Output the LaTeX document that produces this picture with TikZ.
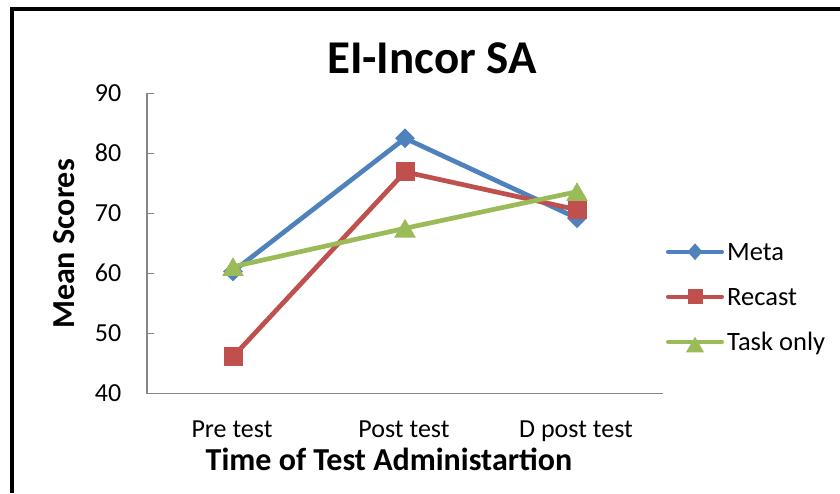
\documentclass[tikz,border=0pt]{standalone}
\usepackage{fontspec}
\setmainfont{Carlito}
\usetikzlibrary{shapes.geometric}
\definecolor{metablue}{HTML}{4F81BD}
\definecolor{recastred}{HTML}{C0504D}
\definecolor{taskgreen}{HTML}{9BBB59}
\definecolor{axisgray}{HTML}{868686}
\tikzset{
  frameline/.style={line width=3.8pt, black},
  axisline/.style={line width=1.2pt, axisgray},
  series/.style={line width=4.7pt, line join=round, line cap=round},
  dmark/.style={diamond, fill=metablue, draw=none, inner sep=0pt, minimum width=20pt, minimum height=20pt},
  smark/.style={rectangle, fill=recastred, draw=none, inner sep=0pt, minimum size=19pt},
  tmark/.style={regular polygon, regular polygon sides=3, fill=taskgreen, draw=none, inner sep=0pt, minimum size=25pt, yshift=-3pt},
  ldmark/.style={dmark, minimum width=15pt, minimum height=17pt},
  lsmark/.style={smark, minimum size=15pt},
  ltmark/.style={tmark, minimum size=21pt, yshift=-2.5pt},
  ticklabel/.style={font=\fontsize{26}{30}\selectfont, inner sep=0pt},
  axistitle/.style={font=\fontsize{32}{36}\selectfont\bfseries, inner sep=0pt},
  legendtext/.style={font=\fontsize{26.5}{30}\selectfont, inner sep=0pt, anchor=base west}
}
\begin{document}
\begin{tikzpicture}[x=1pt, y=-1pt]
\useasboundingbox (0,0) rectangle (840,493);
\fill[white] (0,0) rectangle (840,493);
% frame
\coordinate (fbl) at (12,493);
\coordinate (ftl) at (12,8.7);
\coordinate (ftr) at (840,8.7);
\draw[frameline] (fbl) -- (ftl) -- (ftr);
% title
\node[font=\fontsize{47}{52}\selectfont\bfseries, inner sep=0pt, anchor=base] (title) at (432,73.5) {EI-Incor SA};
% axes
\coordinate (ytop) at (147,93.3);
\coordinate (origin) at (147,393.3);
\coordinate (xend) at (663,393.3);
\foreach \v/\yy in {90/93.3,80/153.3,70/213.3,60/273.3,50/333.3} {
  \coordinate (t\v) at (147,\yy);
  \coordinate (te\v) at (154,\yy);
  \draw[axisline] (t\v) -- (te\v);
}
\draw[axisline] (ytop) -- (origin) -- (xend);
\foreach \v/\yy in {90/93.3,80/153.3,70/213.3,60/273.3,50/333.3,40/393.3} {
  \node[ticklabel, anchor=base east] (yl\v) at (121.5,\yy+8.2) {\v};
}
\node[ticklabel, anchor=base] (xl1) at (232,437) {Pre test};
\node[ticklabel, anchor=base] (xl2) at (404,437) {Post test};
\node[ticklabel, anchor=base] (xl3) at (576,437) {D post test};
\node[axistitle, anchor=base] (xtitle) at (389,470) {Time of Test Administartion};
\node[axistitle, anchor=base, rotate=90] (ytitle) at (74,244) {Mean Scores};
% data points
\coordinate (m1) at (233,271.5);
\coordinate (m2) at (405,138.3);
\coordinate (m3) at (577,218.1);
\coordinate (r1) at (233,356.7);
\coordinate (r2) at (405,171.9);
\coordinate (r3) at (577,209.7);
\coordinate (g1) at (233,266.7);
\coordinate (g2) at (405,228.3);
\coordinate (g3) at (577,191.7);
% Meta
\draw[series, metablue] (m1) -- (m2) -- (m3);
\foreach \p in {m1,m2,m3} \node[dmark] (d\p) at (\p) {};
% Recast
\draw[series, recastred] (r1) -- (r2) -- (r3);
\foreach \p in {r1,r2,r3} \node[smark] (d\p) at (\p) {};
% Task only
\draw[series, taskgreen] (g1) -- (g2) -- (g3);
\foreach \p in {g1,g2,g3} \node[tmark] (d\p) at (\p) {};
% legend
\coordinate (la1) at (668,251.7);
\coordinate (lb1) at (722,251.7);
\coordinate (la2) at (668,296.7);
\coordinate (lb2) at (722,296.7);
\coordinate (la3) at (668,341.7);
\coordinate (lb3) at (722,341.7);
\draw[series, metablue, line width=4pt] (la1) -- (lb1);
\node[ldmark] (lm1) at (695,251.7) {};
\draw[series, recastred, line width=4pt] (la2) -- (lb2);
\node[lsmark] (lm2) at (695,296.7) {};
\draw[series, taskgreen, line width=4pt] (la3) -- (lb3);
\node[ltmark] (lm3) at (695,341.7) {};
\node[legendtext] (lt1) at (727,251.7+8.3) {Meta};
\node[legendtext] (lt2) at (727,296.7+8.3) {Recast};
\node[legendtext] (lt3) at (727,341.7+8.3) {Task only};
\end{tikzpicture}
\end{document}
